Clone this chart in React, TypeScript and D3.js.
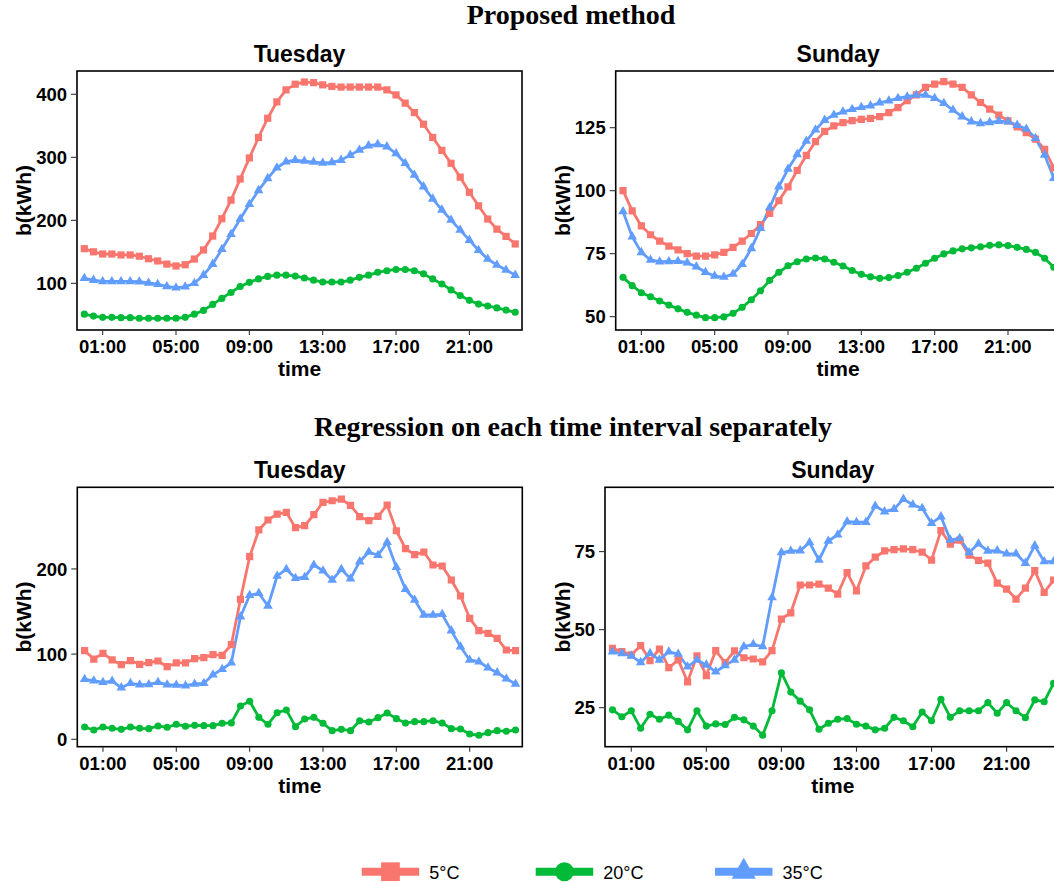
import React from "react";
import * as d3 from "d3";

// ---------- data ----------
const TIMES = [
  "00:00","00:30","01:00","01:30","02:00","02:30","03:00","03:30","04:00","04:30","05:00","05:30",
  "06:00","06:30","07:00","07:30","08:00","08:30","09:00","09:30","10:00","10:30","11:00","11:30",
  "12:00","12:30","13:00","13:30","14:00","14:30","15:00","15:30","16:00","16:30","17:00","17:30",
  "18:00","18:30","19:00","19:30","20:00","20:30","21:00","21:30","22:00","22:30","23:00","23:30",
];
const X_TICKS = ["01:00", "05:00", "09:00", "13:00", "17:00", "21:00"];
const SERIES_NAMES = ["5°C", "20°C", "35°C"];

// Proposed method – Tuesday
const PROP_TUE_5 = [155,150,146.5,146.5,145,145,143,139,135.5,130.5,127.5,129.5,138.5,153,175,202.5,232,265.5,299,331.5,362,388,407,416,419.5,418.5,415,412.5,411.5,411.5,411.5,411.5,411.5,407,399,386,371,352.5,331.5,311,290.5,268.5,244.5,223,202,186,174.5,162.5];
const PROP_TUE_20 = [51,48,46,46,45.5,45.5,44.5,44.5,44.5,44.5,44.5,46,51,57,66.5,76,85.5,95,101.5,107,111,113,113,111.5,108.5,105,102,102,102,105,109.5,113,117.5,120,122,122,120,115,107,99,89.5,80.5,73,67,64,61,57.5,54];
const PROP_TUE_35 = [108,105,103,103,103,103,102.5,100.5,98.5,95,93,94.5,100,113,130.5,154,178,202,225.5,247.5,266.5,283.5,293,295.5,294,292.5,291,292,295.5,303.5,311.5,318.5,320.5,317,306,290.5,272,253.5,234,216.5,200.5,184.5,168.5,152.5,138.5,129,121,113];

// Proposed method – Sunday
const PROP_SUN_5 = [100,92,86,82.5,80,78,76.5,75,74,74,74.5,75.5,77.5,80,83,86.5,91,96,101.5,108,114,119.5,123.5,125.7,127,127.8,128.3,128.7,129.4,131,133,135.7,138,141,142.3,143.3,142.3,141,138,135,132.4,130,127.7,125.3,123,120.5,116.4,109];
const PROP_SUN_20 = [65.6,62.3,59.5,57.9,56.2,54.6,53.1,51.7,50.6,49.6,49.6,49.9,51.3,53.7,56.7,60.3,64.4,67.6,70.2,71.8,72.9,73.3,72.9,71.6,70.1,68.3,66.8,65.8,65.2,65.5,66.3,67.6,69.2,71.2,73.2,74.9,76.1,76.9,77.3,77.7,78.3,78.5,78.2,77.5,76.7,75.5,73.2,69.6];
const PROP_SUN_35 = [91.7,81.7,75.5,72.5,71.8,71.9,72,71.4,69.8,67.6,66.1,65.7,66.9,70.8,77.1,85.1,93.3,101.6,108.6,114.4,119.7,124.2,128,130,131.3,132.3,133.1,133.7,134.9,135.7,136.7,137.3,138,138,136.7,134.7,132,129.4,127.4,126.7,127.1,127.6,127.4,126,124.5,120.8,114.2,104.9];

// Regression on each interval – Tuesday
const REG_TUE_5 = [104,94.2,100.9,93.1,87.6,92.3,88,89.9,91.9,85.2,89.6,89.6,94.6,95.8,99.3,98.6,111,164.3,214.3,245.7,257.4,264.4,266.4,248.4,250.7,263.6,278.2,280,282,274.6,261.3,256.6,261.7,275,244.8,223.7,216.7,219.8,204.6,203.4,187,168.2,142,127.5,124.4,118.5,104.8,104];
const REG_TUE_20 = [14.4,10.9,14.4,12.9,11.7,14.4,12.9,12.5,15.6,14.1,17.6,15.3,16.4,16,16,18.8,19.2,39.1,44.6,25.8,17.6,31.2,34.4,14.8,23.8,25.8,18.8,10.1,11.7,10.1,21.8,20.3,25.4,30.9,24.2,19.1,20.7,20.7,21.8,19.1,12.5,12.1,6.2,4.7,7.8,10.1,9.4,10.9];
const REG_TUE_35 = [70.4,68.8,66.9,68.4,60.6,65.7,64.1,64.4,66.9,64.1,63.7,62.9,64.9,65.7,75.8,82.2,89.9,143.9,169,171.4,156.5,191.7,199.5,189,190.3,204.6,197.9,187,199.5,188.5,208.5,219.8,216,231.2,201.9,176.1,163.5,145.9,145.9,146.7,127.5,108.7,93.1,91.1,84,78.2,71.1,64.9];

// Regression on each interval – Sunday
const REG_SUN_5 = [44,43,41.9,44.9,40.1,43.8,37.8,40.3,33.3,41.6,35.3,43.3,39.4,43.2,41,40.6,39.7,43.3,53.4,55.4,64.3,64.3,64.6,63.3,61.4,68.3,62.4,70.4,73.2,75.2,75.6,75.9,75.6,74.8,72.3,81.7,77.4,78.7,73.9,72.2,71.3,64.9,63,59.8,63.3,68.9,61.9,65.9];
const REG_SUN_20 = [24.3,22.1,24,18.4,22.9,21.3,22.6,20.6,17.9,24,19.1,19.8,19.6,21.9,21.1,19.1,16.2,24,36.2,30,27.1,24.3,18.1,20,21.3,21.5,19.7,19.1,17.9,18.4,21.9,20.8,18.9,23.6,20.8,27.7,21.9,24,24,24,26.6,23.2,26.6,24,21.8,27.5,26.9,32.8];
const REG_SUN_35 = [42.9,42.4,41.6,39.5,42.4,40.3,42.9,42.2,38.1,40.3,38.7,36.5,38.5,40.3,44.6,45.3,44.6,60.3,74.7,75.2,75.3,77.9,72.3,78.4,80.4,84.6,84.4,84.4,89.6,87.8,88.6,91.8,90,88.9,84.1,86.2,78.7,79.3,74.7,77.5,75.2,75.3,74.3,74.3,71.3,76.9,71.8,71.8];

const Y_TICKS_PROP_TUE = [100, 200, 300, 400];
const Y_TICKS_PROP_SUN = [50, 75, 100, 125];
const Y_TICKS_REG_TUE = [0, 100, 200];
const Y_TICKS_REG_SUN = [25, 50, 75];

// ---------- style / layout ----------
const COLORS = ["#F8766D", "#00BA38", "#619CFF"];
const SYMBOLS = [d3.symbolSquare, d3.symbolCircle, d3.symbolTriangle];
const MARK_SIZES = [52, 40, 40];
const LEG_SIZES = [350, 285, 255];
const SANS = "'Liberation Sans', Arial, Helvetica, sans-serif";
const SERIF = "'Liberation Serif', 'Times New Roman', serif";

const toHours = (s: string) => {
  const [h, m] = s.split(":").map(Number);
  return h + m / 60;
};
const X_DOMAIN: [number, number] = [-0.4, 23.87];

type Panel = {
  title: string;
  x0: number; x1: number; y0: number; y1: number;
  yDomain: [number, number];
  yTicks: number[];
  series: number[][];
  ylabX: number;
};

const PANELS: Panel[] = [
  { title: "Tuesday", x0: 77, x1: 522, y0: 71, y1: 330, yDomain: [25.9, 437], yTicks: Y_TICKS_PROP_TUE, series: [PROP_TUE_5, PROP_TUE_20, PROP_TUE_35], ylabX: 23 },
  { title: "Sunday", x0: 615.7, x1: 1060.6, y0: 71, y1: 330, yDomain: [44.7, 147.5], yTicks: Y_TICKS_PROP_SUN, series: [PROP_SUN_5, PROP_SUN_20, PROP_SUN_35], ylabX: 562 },
  { title: "Tuesday", x0: 77.3, x1: 522.3, y0: 487.3, y1: 746.7, yDomain: [-8.7, 295.8], yTicks: Y_TICKS_REG_TUE, series: [REG_TUE_5, REG_TUE_20, REG_TUE_35], ylabX: 23 },
  { title: "Sunday", x0: 605, x1: 1060.5, y0: 487.3, y1: 746.7, yDomain: [12.5, 95.6], yTicks: Y_TICKS_REG_SUN, series: [REG_SUN_5, REG_SUN_20, REG_SUN_35], ylabX: 562 },
];

function PanelView({ p, idx }: { p: Panel; idx: number }) {
  const x = d3.scaleLinear().domain(X_DOMAIN).range([p.x0, p.x1]);
  const y = d3.scaleLinear().domain(p.yDomain).range([p.y1, p.y0]);
  const hours = TIMES.map(toHours);
  const line = d3
    .line<number>()
    .x((_, i) => x(hours[i]))
    .y((d) => y(d));
  const cx = (p.x0 + p.x1) / 2;
  const cy = (p.y0 + p.y1) / 2;
  const clipId = `clip-${idx}`;
  return (
    <g>
      <defs>
        <clipPath id={clipId}>
          <rect x={p.x0} y={p.y0} width={p.x1 - p.x0} height={p.y1 - p.y0} />
        </clipPath>
      </defs>
      <g clipPath={`url(#${clipId})`}>
        {p.series.map((s, k) => (
          <path key={"l" + k} d={line(s) || ""} fill="none" stroke={COLORS[k]} strokeWidth={2.8} strokeLinejoin="round" />
        ))}
        {p.series.map((s, k) => {
          const sym = d3.symbol().type(SYMBOLS[k]).size(MARK_SIZES[k])();
          return (
            <g key={"p" + k}>
              {s.map((v, i) => (
                <path key={i} d={sym || ""} transform={`translate(${x(hours[i])},${y(v)})`} fill={COLORS[k]} />
              ))}
            </g>
          );
        })}
      </g>
      <rect x={p.x0} y={p.y0} width={p.x1 - p.x0} height={p.y1 - p.y0} fill="none" stroke="#000" strokeWidth={1.6} />
      {X_TICKS.map((t) => {
        const xx = x(toHours(t));
        return (
          <g key={t}>
            <line x1={xx} x2={xx} y1={p.y1} y2={p.y1 + 5} stroke="#333" strokeWidth={1.1} />
            <text x={xx} y={p.y1 + 23} textAnchor="middle" fontFamily={SANS} fontWeight="bold" fontSize={18.5} fill="#000">{t}</text>
          </g>
        );
      })}
      {p.yTicks.map((t) => {
        const yy = y(t);
        return (
          <g key={t}>
            <line x1={p.x0 - 6} x2={p.x0} y1={yy} y2={yy} stroke="#333" strokeWidth={1.1} />
            <text x={p.x0 - 10} y={yy} dy="0.36em" textAnchor="end" fontFamily={SANS} fontWeight="bold" fontSize={18.5} fill="#000">{t}</text>
          </g>
        );
      })}
      <text x={cx} y={p.y1 + 46} textAnchor="middle" fontFamily={SANS} fontWeight="bold" fontSize={21} fill="#000">time</text>
      <text transform={`translate(${p.ylabX},${cy}) rotate(-90)`} dy="0.36em" textAnchor="middle" fontFamily={SANS} fontWeight="bold" fontSize={21} fill="#000">b(kWh)</text>
      <text x={cx} y={p.y0 - 9.5} textAnchor="middle" fontFamily={SANS} fontWeight="bold" fontSize={23} fill="#000">{p.title}</text>
    </g>
  );
}

const LEGEND_X = [361.7, 535.7, 715];

export default function App() {
  return (
    <svg width={1054} height={884} style={{ position: "absolute", left: 0, top: 0, background: "#fff" }}>
      <rect width={1054} height={884} fill="#fff" />
      <text x={571} y={24} textAnchor="middle" fontFamily={SERIF} fontWeight="bold" fontSize={28} fill="#000">Proposed method</text>
      <text x={573} y={436} textAnchor="middle" fontFamily={SERIF} fontWeight="bold" fontSize={28} fill="#000">Regression on each time interval separately</text>
      {PANELS.map((p, i) => (
        <PanelView key={i} p={p} idx={i} />
      ))}
      {SERIES_NAMES.map((name, k) => {
        const lx = LEGEND_X[k];
        const ly = 871.7;
        const sym = d3.symbol().type(SYMBOLS[k]).size(LEG_SIZES[k])();
        return (
          <g key={name}>
            <line x1={lx} x2={lx + 57.5} y1={ly} y2={ly} stroke={COLORS[k]} strokeWidth={8} />
            <path d={sym || ""} transform={`translate(${lx + 28.75},${ly})`} fill={COLORS[k]} />
            <text x={lx + 67.5} y={ly + 5} dy="0.1em" fontFamily={SANS} fontSize={18} fill="#000">{name}</text>
          </g>
        );
      })}
    </svg>
  );
}
